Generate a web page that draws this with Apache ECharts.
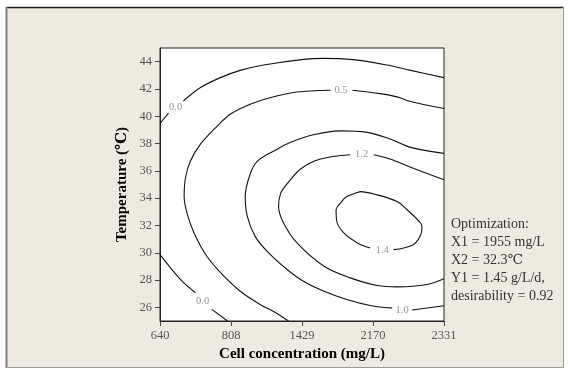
<!DOCTYPE html>
<html>
<head>
<meta charset="utf-8">
<script src="https://cdn.jsdelivr.net/npm/echarts@6/dist/echarts.min.js"></script>
<style>
  html, body { margin: 0; padding: 0; background: #ffffff; }
  #chart { width: 571px; height: 376px; }
</style>
</head>
<body>
<div id="chart"></div>
<script>
// Cell concentration levels shown on the x axis (evenly spaced positions 0..4)
const xTickLabels = ['640', '808', '1429', '2170', '2331'];
// Temperature ticks (°C)
const yTickValues = [26, 28, 30, 32, 34, 36, 38, 40, 42, 44];

// Contour lines of the response surface, as [x position, temperature] points.
// Each contour is split where its value label sits.
const contour00UpperA = [[0, 39.47], [0.12, 40.23]];
const contour00UpperB = [[0.33, 41.12], [0.57, 42.10], [0.85, 42.83], [1.13, 43.36], [1.46, 43.75],
  [2.02, 44.17], [2.30, 44.24], [2.72, 44.15], [3.20, 43.75], [3.53, 43.36], [4.0, 42.83]];

const contour00LowerA = [[0, 29.86], [0.29, 28.03], [0.50, 27.07]];
const contour00LowerB = [[0.73, 25.85], [0.95, 25.0]];

const contour05A = [[1.81, 25.0], [1.63, 25.61], [1.41, 26.21], [1.13, 27.18], [0.90, 28.28],
  [0.66, 29.74], [0.48, 31.45], [0.38, 32.91], [0.34, 34.12], [0.36, 35.53], [0.43, 36.74],
  [0.57, 37.96], [0.81, 39.30], [0.99, 40.15], [1.27, 40.88], [1.56, 41.37], [1.93, 41.78],
  [2.40, 41.91]];
const contour05B = [[2.71, 41.91], [3.10, 41.66], [3.34, 41.42], [3.53, 41.08], [4.0, 40.57]];

const contour10A = [[4.0, 37.28], [3.53, 37.72], [3.24, 38.33], [2.92, 38.82], [2.54, 38.93],
  [2.16, 38.64], [1.84, 38.09], [1.63, 37.53], [1.37, 36.70], [1.27, 35.77], [1.20, 34.12],
  [1.23, 32.66], [1.34, 31.20], [1.51, 30.10], [1.79, 28.77], [2.02, 27.91], [2.31, 27.18],
  [2.63, 26.58], [2.96, 26.14], [3.27, 25.94]];
const contour10B = [[3.55, 25.80], [4.0, 26.12]];

const contour12A = [[2.68, 37.18], [2.26, 36.87], [1.98, 36.14], [1.79, 35.04], [1.70, 34.36],
  [1.67, 33.39], [1.74, 32.18], [1.93, 30.72], [2.31, 29.01], [2.68, 28.16], [3.06, 27.60],
  [3.34, 27.50], [3.76, 27.67], [4.0, 28.09]];
const contour12B = [[3.01, 37.18], [3.24, 36.87], [3.53, 36.26], [4.0, 35.34]];

const contour14A = [[2.96, 30.35], [2.78, 30.72], [2.59, 31.45], [2.49, 32.29], [2.48, 33.15],
  [2.54, 33.64], [2.63, 34.12], [2.78, 34.41], [2.82, 34.48], [3.06, 34.24], [3.34, 33.75],
  [3.48, 33.15], [3.67, 32.18], [3.69, 31.83], [3.60, 30.72], [3.43, 30.35], [3.29, 30.23]];

// Value labels placed in the gaps of the contours
const contourLabelText = ['0.0', '0.0', '0.5', '1.0', '1.2', '1.4'];
const contourLabelAt = [[0.22, 40.66], [0.60, 26.45], [2.55, 41.91], [3.41, 25.80], [2.84, 37.18], [3.13, 30.20]];

// Optimum summary shown beside the plot
const noteLines = ['Optimization:', 'X1 = 1955 mg/L', 'X2 = 32.3\u2103', 'Y1 = 1.45 g/L/d,', 'desirability = 0.92'];

const serif = '"Liberation Serif", "Times New Roman", "DejaVu Serif", serif';

const segments = [contour00UpperA, contour00UpperB, contour00LowerA, contour00LowerB,
  contour05A, contour05B, contour10A, contour10B, contour12A, contour12B, contour14A];

const lineSeries = segments.map(function (seg) {
  return {
    type: 'line',
    data: seg,
    smooth: 0.35,
    showSymbol: false,
    symbol: 'none',
    silent: true,
    lineStyle: { color: '#111', width: 1.1 },
    z: 3
  };
});

const labelSeries = {
  type: 'scatter',
  data: contourLabelAt.map(function (p, i) { return { value: p, name: contourLabelText[i] }; }),
  symbolSize: 0,
  silent: true,
  label: {
    show: true,
    position: 'inside',
    formatter: function (p) { return p.name; },
    fontFamily: serif,
    fontSize: 10.5,
    color: '#777'
  },
  z: 4
};

const chart = echarts.init(document.getElementById('chart'), null, { renderer: 'canvas' });

chart.setOption({
  animation: false,
  backgroundColor: '#ffffff',
  graphic: [
    { type: 'rect', shape: { x: 6, y: 7, width: 558, height: 361 }, style: { fill: '#eeeae0', stroke: null }, z: -10 },
    { type: 'line', shape: { x1: 6, y1: 7.5, x2: 564, y2: 7.5 }, style: { stroke: '#222', lineWidth: 1.5 }, z: -9 },
    { type: 'line', shape: { x1: 6.5, y1: 7, x2: 6.5, y2: 368 }, style: { stroke: '#808080', lineWidth: 2 }, z: -9 },
    { type: 'line', shape: { x1: 563.5, y1: 7, x2: 563.5, y2: 368 }, style: { stroke: '#9a9a9a', lineWidth: 1 }, z: -9 },
    { type: 'line', shape: { x1: 6, y1: 367.5, x2: 564, y2: 367.5 }, style: { stroke: '#9a9a9a', lineWidth: 1 }, z: -9 }
  ].concat(noteLines.map(function (t, i) {
    return {
      type: 'text',
      left: 451,
      top: 217 + i * 18.2,
      style: { text: t, font: '14px ' + serif, fill: '#333' },
      z: 10
    };
  })),
  grid: {
    left: 160,
    right: 127,
    top: 48,
    bottom: 55,
    show: true,
    backgroundColor: '#ffffff',
    borderColor: '#222',
    borderWidth: 1
  },
  xAxis: {
    type: 'value',
    min: 0,
    max: 4,
    interval: 1,
    name: 'Cell concentration (mg/L)',
    nameLocation: 'middle',
    nameGap: 26,
    nameTextStyle: { fontFamily: serif, fontSize: 15, fontWeight: 'bold', color: '#000' },
    axisLine: { show: true, onZero: false, lineStyle: { color: '#222', width: 1 } },
    axisTick: { show: true, inside: false, length: 5, lineStyle: { color: '#444' } },
    splitLine: { show: false },
    axisLabel: {
      margin: 8,
      fontFamily: serif,
      fontSize: 12.5,
      color: '#555',
      formatter: function (v) { return xTickLabels[Math.round(v)] || ''; }
    }
  },
  yAxis: {
    type: 'value',
    min: 25,
    max: 45,
    name: 'Temperature (\u2103)',
    nameLocation: 'middle',
    nameGap: 30,
    nameRotate: 90,
    nameTextStyle: { fontFamily: serif, fontSize: 15, fontWeight: 'bold', color: '#000' },
    axisLine: { show: true, onZero: false, lineStyle: { color: '#222', width: 1 } },
    axisTick: { show: true, inside: false, length: 5, customValues: yTickValues, lineStyle: { color: '#444' } },
    splitLine: { show: false },
    axisLabel: {
      margin: 8,
      fontFamily: serif,
      fontSize: 12.5,
      color: '#555',
      customValues: yTickValues
    }
  },
  series: lineSeries.concat([labelSeries])
});
</script>
</body>
</html>
